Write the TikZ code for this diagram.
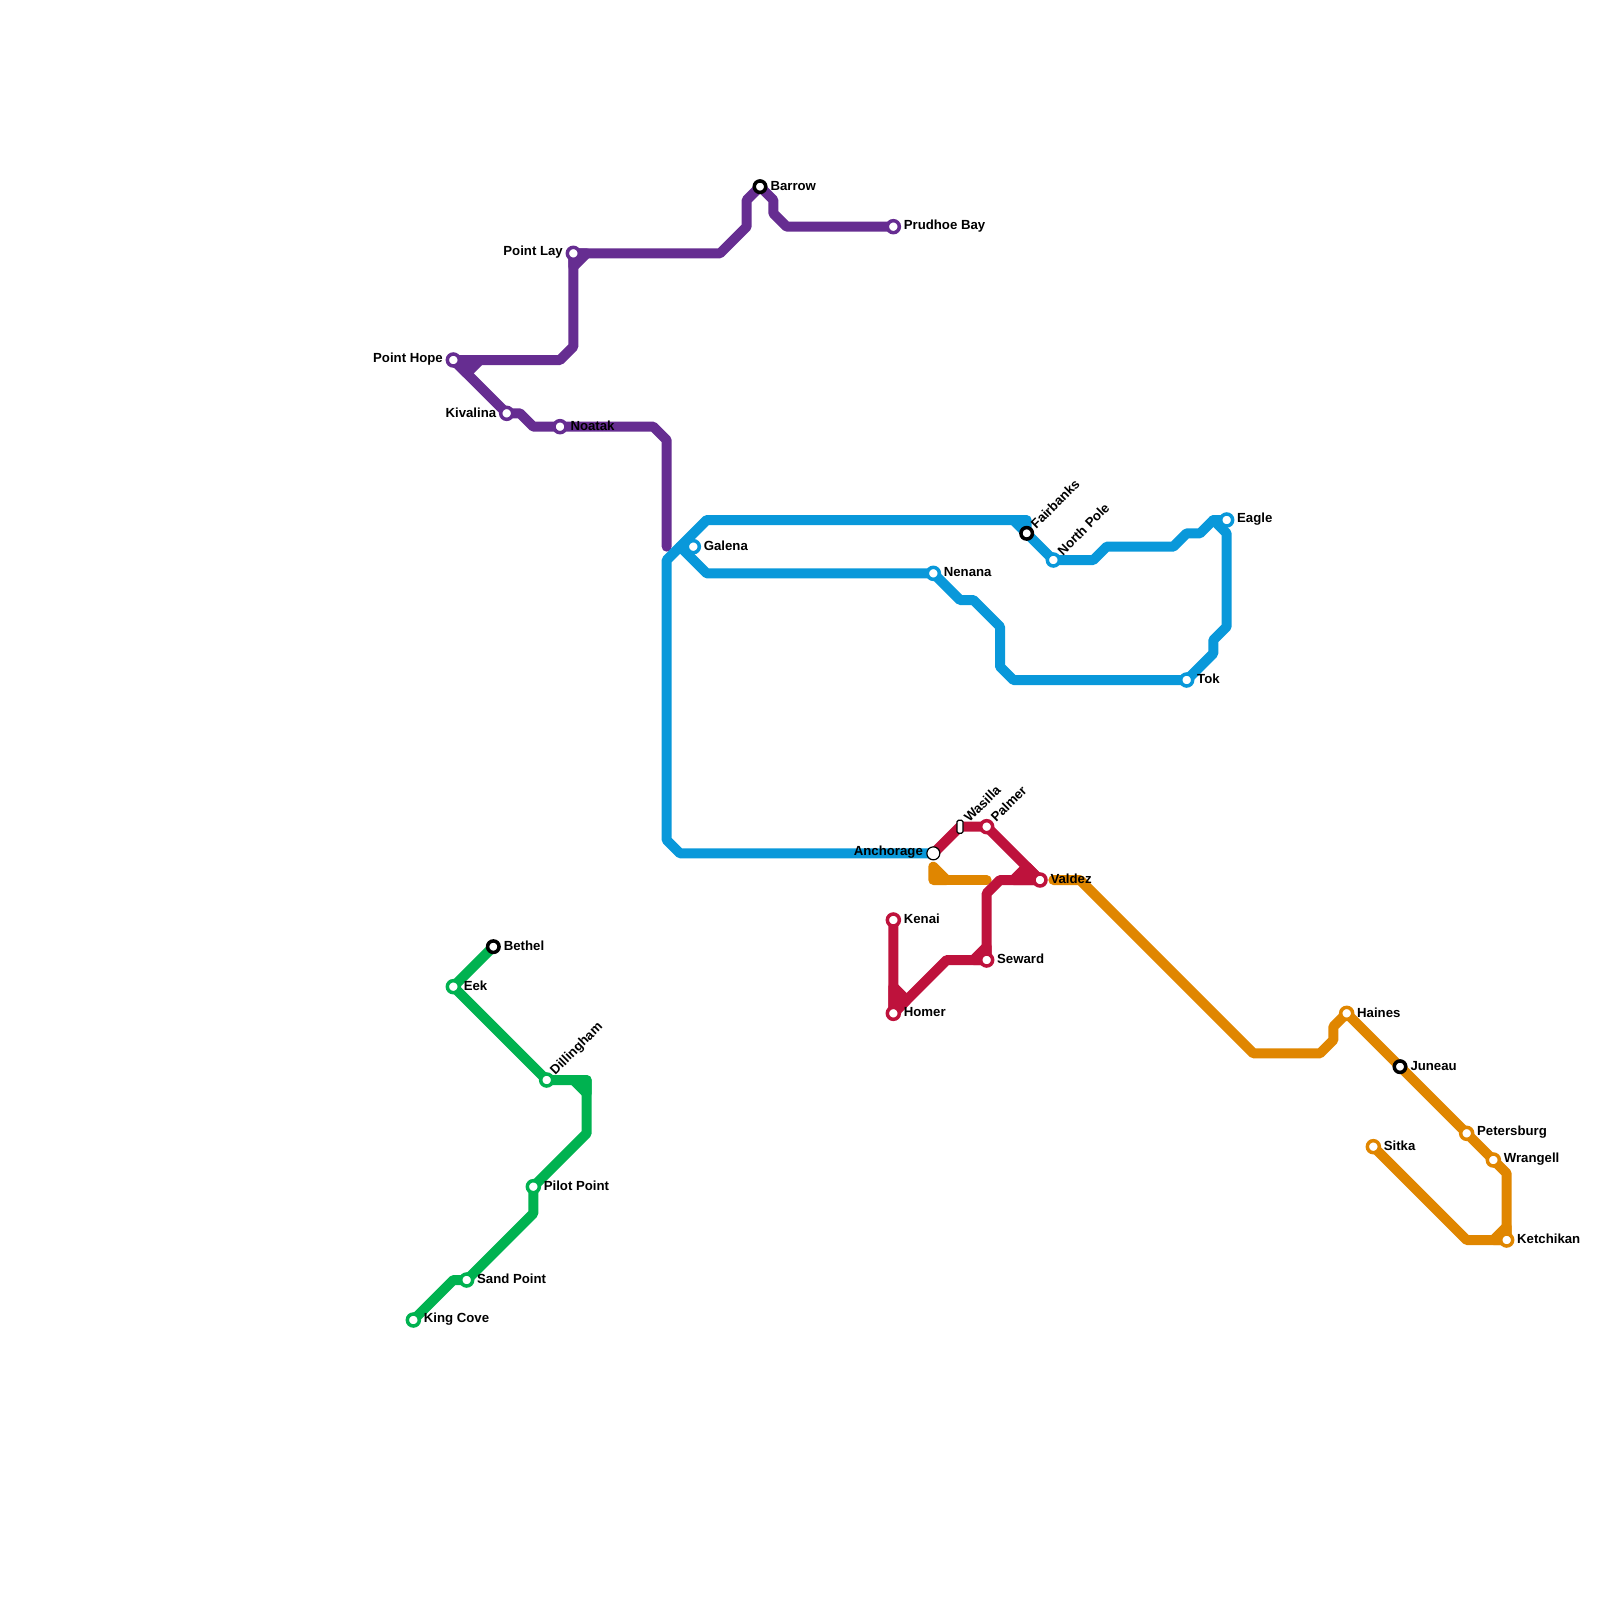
\documentclass[tikz,border=0pt]{standalone}
\usepackage{fontspec}
\setmainfont{Liberation Sans}
\pgfdeclarelayer{lines}
\pgfsetlayers{lines,main}
\definecolor{lpurple}{RGB}{102,45,145}
\definecolor{lblue}{RGB}{9,152,218}
\definecolor{lred}{RGB}{190,18,60}
\definecolor{lorange}{RGB}{224,134,0}
\definecolor{lgreen}{RGB}{0,178,80}
\tikzset{
  route/.style={line width=10pt,line cap=round,line join=round},
  wedge/.style={route,draw=#1,fill=#1},
  stn/.style={circle,draw=#1,fill=white,line width=3.5pt,minimum size=12pt,inner sep=0pt,outer sep=0pt},
  hub/.style={circle,draw=black,fill=white,line width=3.5pt,minimum size=11.5pt,inner sep=0pt,outer sep=0pt},
  plain/.style={circle,draw=black,fill=white,line width=1.2pt,minimum size=13pt,inner sep=0pt,outer sep=0pt},
  pill/.style={rounded corners=1.5pt,draw=black,fill=white,line width=1.2pt,minimum width=6pt,minimum height=13pt,inner sep=0pt,outer sep=0pt},
  lab/.style={font=\fontsize{13.2pt}{16pt}\selectfont\bfseries,inner sep=0pt,outer sep=0pt,text=black},
  lr/.style={lab,anchor=west,xshift=10.5pt,yshift=1pt},
  ll/.style={lab,anchor=east,xshift=-10.5pt,yshift=1pt},
  lu/.style={lab,anchor=west,rotate=45,xshift=9.5pt,yshift=0.5pt},
}
\begin{document}
\begin{tikzpicture}[x=13.3333pt,y=-13.3333pt]
\useasboundingbox (0,0) rectangle (120,120);
% stations
\node[hub] (barrow) at (57,14) {};
\node[stn=lpurple] (prudhoe) at (67,17) {};
\node[stn=lpurple] (pointlay) at (43,19) {};
\node[stn=lpurple] (pointhope) at (34,27) {};
\node[stn=lpurple] (kivalina) at (38,31) {};
\node[stn=lpurple] (noatak) at (42,32) {};
\node[stn=lblue] (galena) at (52,41) {};
\node[stn=lblue] (nenana) at (70,43) {};
\node[hub] (fairbanks) at (77,40) {};
\node[stn=lblue] (northpole) at (79,42) {};
\node[stn=lblue] (eagle) at (92,39) {};
\node[stn=lblue] (tok) at (89,51) {};
\node[plain] (anchorage) at (70,64) {};
\node[pill] (wasilla) at (72,62) {};
\node[stn=lred] (palmer) at (74,62) {};
\node[stn=lred] (valdez) at (78,66) {};
\node[stn=lred] (seward) at (74,72) {};
\node[stn=lred] (kenai) at (67,69) {};
\node[stn=lred] (homer) at (67,76) {};
\node[stn=lorange] (haines) at (101,76) {};
\node[hub] (juneau) at (105,80) {};
\node[stn=lorange] (petersburg) at (110,85) {};
\node[stn=lorange] (wrangell) at (112,87) {};
\node[stn=lorange] (ketchikan) at (113,93) {};
\node[stn=lorange] (sitka) at (103,86) {};
\node[hub] (bethel) at (37,71) {};
\node[stn=lgreen] (eek) at (34,74) {};
\node[stn=lgreen] (dillingham) at (41,81) {};
\node[stn=lgreen] (pilotpoint) at (40,89) {};
\node[stn=lgreen] (sandpoint) at (35,96) {};
\node[stn=lgreen] (kingcove) at (31,99) {};
% labels
\node[lr] (tbarrow) at (barrow) {Barrow};
\node[lr] (tprudhoe) at (prudhoe) {Prudhoe Bay};
\node[ll] (tpointlay) at (pointlay) {Point Lay};
\node[ll] (tpointhope) at (pointhope) {Point Hope};
\node[ll] (tkivalina) at (kivalina) {Kivalina};
\node[lr] (tnoatak) at (noatak) {Noatak};
\node[lr] (tgalena) at (galena) {Galena};
\node[lr] (tnenana) at (nenana) {Nenana};
\node[lu] (tfairbanks) at (fairbanks) {Fairbanks};
\node[lu] (tnorthpole) at (northpole) {North Pole};
\node[lr] (teagle) at (eagle) {Eagle};
\node[lr] (ttok) at (tok) {Tok};
\node[ll] (tanchorage) at (anchorage) {Anchorage};
\node[lu] (twasilla) at (wasilla) {Wasilla};
\node[lu] (tpalmer) at (palmer) {Palmer};
\node[lr] (tvaldez) at (valdez) {Valdez};
\node[lr] (tseward) at (seward) {Seward};
\node[lr] (tkenai) at (kenai) {Kenai};
\node[lr] (thomer) at (homer) {Homer};
\node[lr] (thaines) at (haines) {Haines};
\node[lr] (tjuneau) at (juneau) {Juneau};
\node[lr] (tpetersburg) at (petersburg) {Petersburg};
\node[lr] (twrangell) at (wrangell) {Wrangell};
\node[lr] (tketchikan) at (ketchikan) {Ketchikan};
\node[lr] (tsitka) at (sitka) {Sitka};
\node[lr] (tbethel) at (bethel) {Bethel};
\node[lr] (teek) at (eek) {Eek};
\node[lu] (tdillingham) at (dillingham) {Dillingham};
\node[lr] (tpilotpoint) at (pilotpoint) {Pilot Point};
\node[lr] (tsandpoint) at (sandpoint) {Sand Point};
\node[lr] (tkingcove) at (kingcove) {King Cove};
\begin{pgfonlayer}{lines}
% orange
\draw[wedge=lorange] (70,65) -- (71,66) -- (70,66) -- cycle;
\draw[route,lorange] (71,66) -- (74,66);
\draw[route,lorange] (79,66) -- (81,66) -- (94,79) -- (99,79) -- (100,78) -- (100,77) -- (haines.center) -- (juneau.center) -- (petersburg.center) -- (wrangell.center) -- (113,88) -- (ketchikan.center);
\draw[route,lorange] (sitka.center) -- (110,93) -- (ketchikan.center);
\draw[wedge=lorange] (112,93) -- (113,92) -- (ketchikan.center) -- cycle;
% purple
\draw[route,lpurple] (prudhoe.center) -- (59,17) -- (58,16) -- (58,15) -- (barrow.center) -- (56,15) -- (56,17) -- (54,19) -- (pointlay.center) -- (43,26) -- (42,27) -- (pointhope.center) -- (kivalina.center) -- (39,31) -- (40,32) -- (noatak.center) -- (49,32) -- (50,33) -- (50,41);
\draw[wedge=lpurple] (44,19) -- (43,20) -- (pointlay.center) -- cycle;
\draw[wedge=lpurple] (36,27) -- (35,28) -- (pointhope.center) -- cycle;
% blue
\draw[route,lblue] (anchorage.center) -- (51,64) -- (50,63) -- (50,42) -- (53,39) -- (76,39) -- (northpole.center) -- (82,42) -- (83,41) -- (88,41) -- (89,40) -- (90,40) -- (91,39) -- (eagle.center);
\draw[wedge=lblue] (76,39) -- (77,39) -- (fairbanks.center) -- cycle;
\draw[route,lblue] (51,41) -- (53,43) -- (nenana.center) -- (72,45) -- (73,45) -- (75,47) -- (75,50) -- (76,51) -- (tok.center) -- (91,49) -- (91,48) -- (92,47) -- (92,40) -- (91,39);
% red
\draw[route,lred] (anchorage.center) -- (wasilla.center) -- (palmer.center) -- (valdez.center) -- (75,66) -- (74,67) -- (seward.center) -- (71,72) -- (homer.center) -- (kenai.center);
\draw[wedge=lred] (76,66) -- (77,65) -- (valdez.center) -- cycle;
\draw[wedge=lred] (73,72) -- (74,71) -- (seward.center) -- cycle;
\draw[wedge=lred] (67,74) -- (68,75) -- (homer.center) -- cycle;
% green
\draw[route,lgreen] (bethel.center) -- (eek.center) -- (dillingham.center) -- (44,81) -- (44,85) -- (pilotpoint.center) -- (40,91) -- (sandpoint.center) -- (34,96) -- (kingcove.center);
\draw[wedge=lgreen] (43,81) -- (44,82) -- (44,81) -- cycle;
\end{pgfonlayer}
\end{tikzpicture}
\end{document}
